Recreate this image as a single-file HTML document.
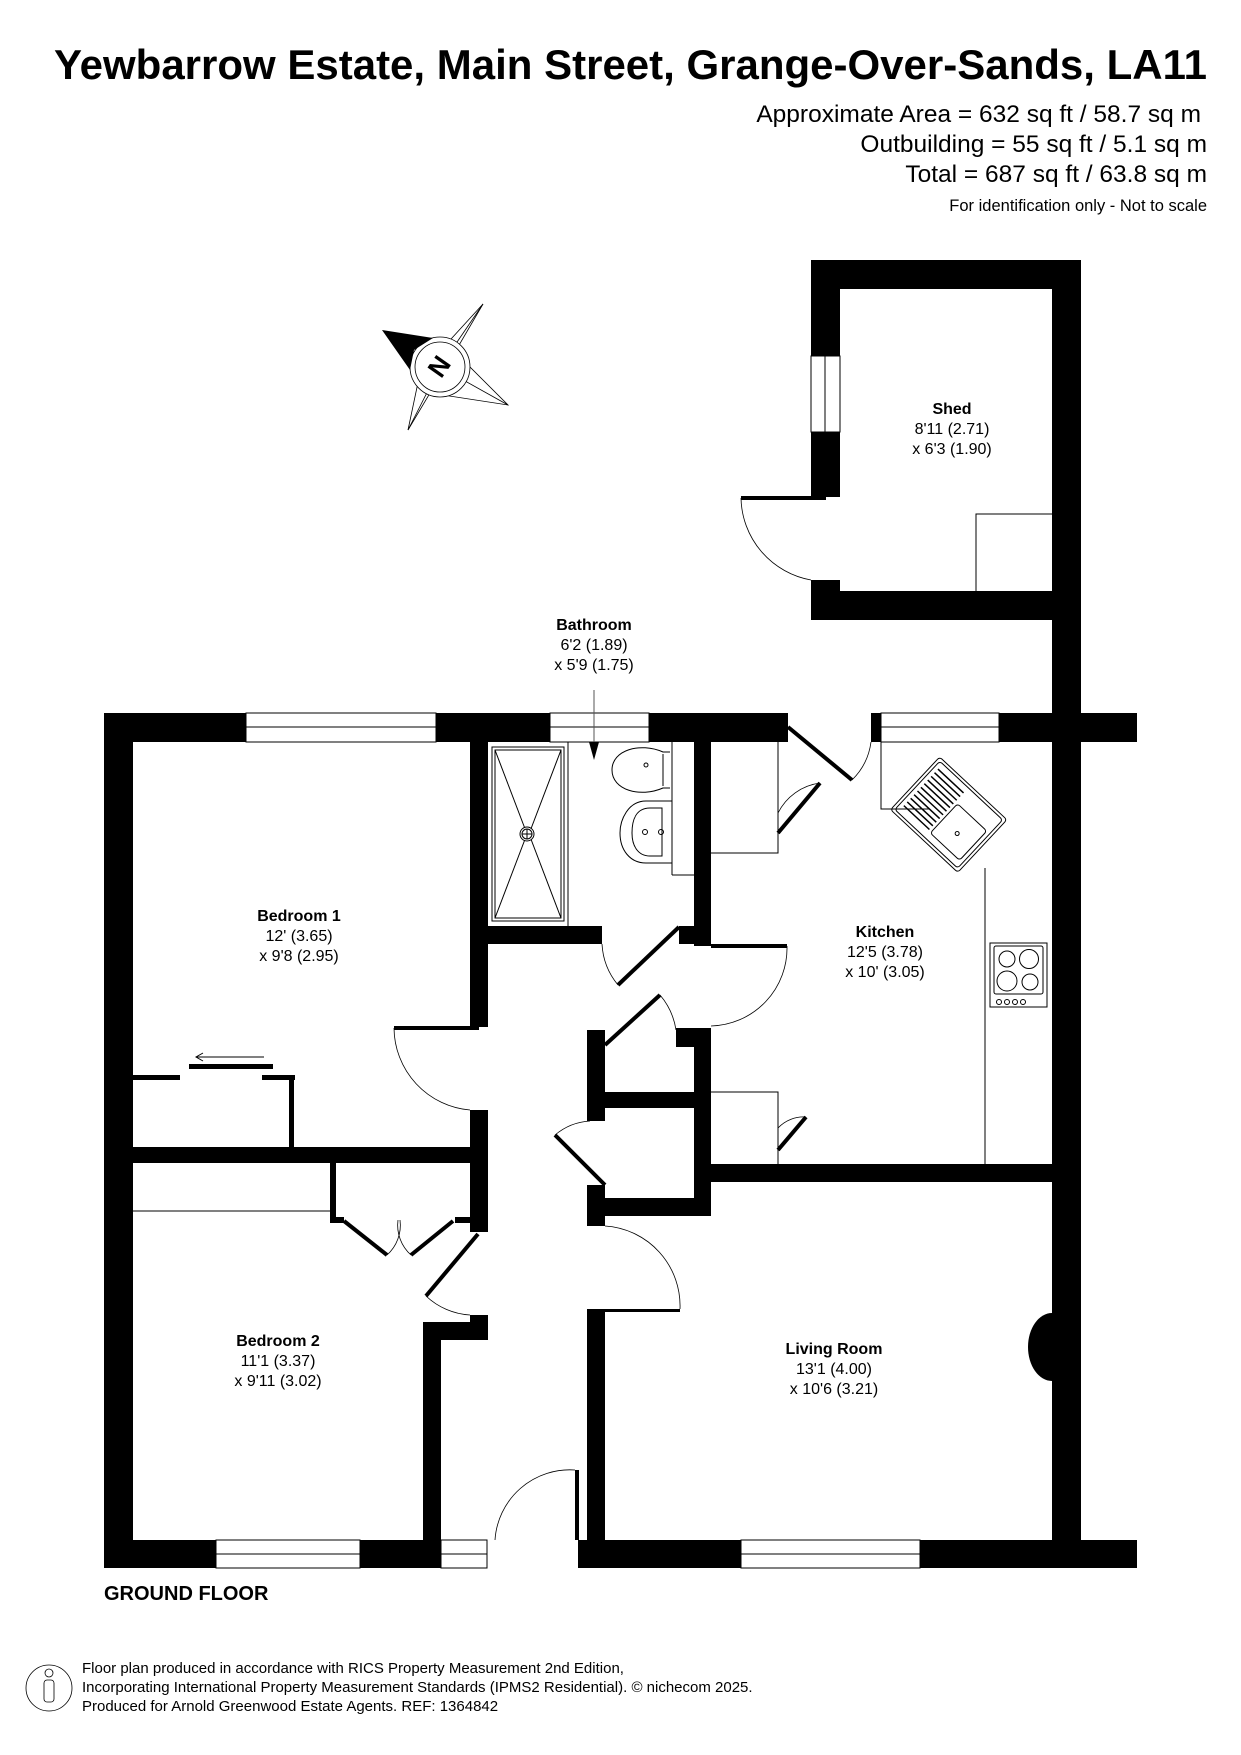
<!DOCTYPE html>
<html><head><meta charset="utf-8"><style>
html,body{margin:0;padding:0;background:#fff;}
svg{display:block;}
text{font-family:"Liberation Sans",Arial,sans-serif;fill:#000;}
</style></head><body>
<svg width="1241" height="1755" viewBox="0 0 1241 1755" xmlns="http://www.w3.org/2000/svg">
<rect width="1241" height="1755" fill="#fff"/>
<!-- header -->
<text x="1207" y="79" text-anchor="end" font-size="42" font-weight="bold">Yewbarrow Estate, Main Street, Grange-Over-Sands, LA11</text>
<text x="1201" y="122" text-anchor="end" font-size="24.5">Approximate Area = 632 sq ft / 58.7 sq m</text>
<text x="1207" y="152" text-anchor="end" font-size="24.5">Outbuilding = 55 sq ft / 5.1 sq m</text>
<text x="1207" y="182" text-anchor="end" font-size="24.5">Total = 687 sq ft / 63.8 sq m</text>
<text x="1207" y="211" text-anchor="end" font-size="16.5">For identification only - Not to scale</text>

<!-- compass -->
<g stroke="#000" stroke-width="0.8" fill="none">
<polygon points="483,304 455,352 508,405 430,393 408,430 420,373" fill="#fff"/>
<line x1="483" y1="304" x2="440" y2="367"/><line x1="508" y1="405" x2="440" y2="367"/><line x1="408" y1="430" x2="440" y2="367"/>
<circle cx="440" cy="367" r="30" fill="#fff"/><circle cx="440" cy="367" r="25"/>
</g>
<polygon points="382,330 433,338 414,350 410,370" fill="#000"/>
<text x="440" y="375" font-size="26" font-weight="bold" text-anchor="middle" transform="rotate(-55 440 367)">N</text>

<!-- walls -->
<g fill="#000">
<rect x="811" y="260" width="270" height="29"/>
<rect x="1052" y="260" width="29" height="1308"/>
<rect x="811" y="260" width="29" height="96"/>
<rect x="811" y="432" width="29" height="65"/>
<rect x="811" y="580" width="29" height="40"/>
<rect x="811" y="591" width="241" height="29"/>
<rect x="104" y="713" width="142" height="29"/>
<rect x="436" y="713" width="114" height="29"/>
<rect x="649" y="713" width="139" height="29"/>
<rect x="871" y="713" width="10" height="29"/>
<rect x="999" y="713" width="138" height="29"/>
<rect x="104" y="713" width="29" height="855"/>
<rect x="104" y="1540" width="112" height="28"/>
<rect x="360" y="1540" width="81" height="28"/>
<rect x="578" y="1540" width="163" height="28"/>
<rect x="920" y="1540" width="217" height="28"/>
<rect x="470" y="742" width="18" height="285"/>
<rect x="488" y="926" width="114" height="18"/>
<rect x="694" y="742" width="17" height="204"/>
<rect x="679" y="926" width="15" height="18"/>
<rect x="694" y="1028" width="17" height="188"/>
<rect x="676" y="1028" width="18" height="19"/>
<rect x="587" y="1030" width="18" height="91"/>
<rect x="605" y="1092" width="89" height="16"/>
<rect x="587" y="1185" width="18" height="41"/>
<rect x="605" y="1198" width="106" height="18"/>
<rect x="711" y="1164" width="341" height="18"/>
<rect x="470" y="1110" width="18" height="122"/>
<rect x="455" y="1217" width="15" height="6"/>
<rect x="133" y="1147" width="337" height="16"/>
<rect x="470" y="1315" width="18" height="25"/>
<rect x="423" y="1322" width="65" height="18"/>
<rect x="423" y="1322" width="18" height="218"/>
<rect x="587" y="1309" width="18" height="231"/>
<rect x="605" y="1309" width="75" height="3"/>
<rect x="575" y="1470" width="4" height="70"/>
<rect x="189" y="1064" width="84" height="5"/>
<rect x="133" y="1075" width="47" height="5"/>
<rect x="262" y="1075" width="33" height="5"/>
<rect x="289" y="1075" width="5" height="72"/>
<rect x="330" y="1163" width="6" height="60"/>
<rect x="330" y="1217" width="14" height="6"/>
<path d="M1052,1313 A24,34 0 0 0 1052,1381 Z"/>
</g>
<rect x="289" y="1100" width="5" height="47" fill="#000"/>

<!-- windows -->
<g fill="#fff" stroke="#000" stroke-width="1">
<rect x="246" y="713" width="190" height="29"/><line x1="246" y1="727" x2="436" y2="727"/>
<rect x="550" y="713" width="99" height="29"/><line x1="550" y1="727" x2="649" y2="727"/>
<rect x="881" y="713" width="118" height="29"/><line x1="881" y1="727" x2="999" y2="727"/>
<rect x="216" y="1540" width="144" height="28"/><line x1="216" y1="1554" x2="360" y2="1554"/>
<rect x="441" y="1540" width="46" height="28"/><line x1="441" y1="1554" x2="487" y2="1554"/>
<rect x="741" y="1540" width="179" height="28"/><line x1="741" y1="1554" x2="920" y2="1554"/>
<rect x="811" y="356" width="29" height="76"/><line x1="825" y1="356" x2="825" y2="432"/>
</g>

<!-- doors leaves -->
<g stroke="#000" stroke-width="4" fill="none">
<line x1="741" y1="498" x2="826" y2="498"/>
<line x1="394" y1="1028" x2="479" y2="1028"/>
<line x1="679" y1="927" x2="618" y2="985"/>
<line x1="711" y1="946" x2="787" y2="946"/>
<line x1="605" y1="1045" x2="660" y2="995"/>
<line x1="605" y1="1185" x2="555" y2="1135"/>
<line x1="478" y1="1234" x2="426" y2="1296"/>
<line x1="344" y1="1221" x2="387" y2="1255"/>
<line x1="411" y1="1255" x2="453" y2="1221"/>
<line x1="788" y1="727" x2="852" y2="780"/>
<line x1="778" y1="833" x2="820" y2="783"/>
<line x1="778" y1="1150" x2="806" y2="1117"/>
</g>
<!-- arcs -->
<g stroke="#000" stroke-width="0.8" fill="none">
<path d="M741,498 A85,85 0 0 0 811,580"/>
<path d="M394,1028 A83,83 0 0 0 470,1110"/>
<path d="M602,944 A70,70 0 0 0 618,985"/>
<path d="M787,946 A78,78 0 0 1 711,1026"/>
<path d="M660,995 A70,70 0 0 1 676,1030"/>
<path d="M555,1135 A60,60 0 0 1 590,1121"/>
<path d="M426,1296 A70,70 0 0 0 470,1315"/>
<path d="M387,1255 A40,40 0 0 0 400,1220"/>
<path d="M411,1255 A40,40 0 0 1 398,1220"/>
<path d="M605,1226 A80,80 0 0 1 680,1309"/>
<path d="M575,1470 A75,75 0 0 0 495,1540"/>
<path d="M852,780 A65,65 0 0 0 871,742"/>
<path d="M778,813 A55,55 0 0 1 820,783"/>
<path d="M778,1128 A35,35 0 0 1 806,1117"/>
</g>

<!-- fixtures -->
<g stroke="#000" stroke-width="1" fill="none">
<rect x="492" y="747" width="72" height="174"/><rect x="495" y="750" width="66" height="168"/>
<line x1="568" y1="742" x2="568" y2="926"/>
<line x1="495" y1="750" x2="527" y2="834"/><line x1="561" y1="750" x2="529" y2="834"/>
<line x1="495" y1="918" x2="527" y2="834"/><line x1="561" y1="918" x2="529" y2="834"/>
<circle cx="527" cy="834" r="7" fill="#fff"/><circle cx="527" cy="834" r="5"/>
<line x1="522" y1="834" x2="532" y2="834"/><line x1="527" y1="829" x2="527" y2="839"/>
<line x1="672" y1="742" x2="672" y2="875"/><line x1="672" y1="875" x2="694" y2="875"/>
<path d="M670,752 L663,752 C640,742 612,750 612,770 C612,790 640,798 663,788 L670,788"/>
<line x1="663" y1="754" x2="663" y2="786"/>
<circle cx="646" cy="765" r="2"/>
<path d="M672,801 L646,801 C628,801 620,820 620,833 C620,850 630,863 646,863 L672,863"/>
<path d="M662,808 L650,808 C636,808 632,820 632,833 C632,846 638,856 650,856 L662,856 Z"/>
<circle cx="645" cy="832" r="2.5"/><circle cx="661" cy="832" r="2.5"/>
<polyline points="711,853 778,853 778,742"/>
<polyline points="711,1092 778,1092 778,1164"/>
<polyline points="976,591 976,514 1052,514"/>
<polyline points="881,742 881,809 930,809"/>
<line x1="985" y1="868" x2="985" y2="1164"/>
<g transform="rotate(43 948 814)">
<rect x="903" y="778" width="92" height="72" rx="3"/>
<rect x="906" y="781" width="86" height="66" rx="3"/>
<rect x="948" y="800" width="40" height="40" rx="3"/>
<g stroke-width="1.5"><line x1="910" y1="788" x2="945" y2="788"/><line x1="910" y1="793" x2="945" y2="793"/><line x1="910" y1="798" x2="945" y2="798"/><line x1="910" y1="803" x2="945" y2="803"/><line x1="910" y1="808" x2="945" y2="808"/><line x1="910" y1="813" x2="945" y2="813"/><line x1="910" y1="818" x2="945" y2="818"/><line x1="910" y1="823" x2="945" y2="823"/><line x1="910" y1="828" x2="945" y2="828"/><line x1="910" y1="833" x2="945" y2="833"/><line x1="910" y1="838" x2="945" y2="838"/></g>
<circle cx="968" cy="822" r="2"/>
</g>
<rect x="990" y="943" width="57" height="64"/>
<rect x="994" y="946" width="49" height="48" rx="2"/>
<circle cx="1007" cy="959" r="8"/><circle cx="1029" cy="959" r="9.5"/>
<circle cx="1007" cy="981" r="10"/><circle cx="1030" cy="982" r="8"/>
<circle cx="999" cy="1002" r="2.5"/><circle cx="1007" cy="1002" r="2.5"/><circle cx="1015" cy="1002" r="2.5"/><circle cx="1023" cy="1002" r="2.5"/>
<line x1="133" y1="1211" x2="330" y2="1211"/>
<line x1="196" y1="1057" x2="264" y2="1057"/>
<polyline points="203,1053 196,1057 203,1061"/>
</g>
<line x1="594" y1="690" x2="594" y2="745" stroke="#555" stroke-width="1"/>
<polygon points="589,742 599,742 594,760" fill="#000"/>

<!-- labels -->
<g font-size="16" text-anchor="middle">
<text x="594" y="630" font-weight="bold">Bathroom</text><text x="594" y="650">6'2 (1.89)</text><text x="594" y="670">x 5'9 (1.75)</text>
<text x="952" y="414" font-weight="bold">Shed</text><text x="952" y="434">8'11 (2.71)</text><text x="952" y="454">x 6'3 (1.90)</text>
<text x="299" y="921" font-weight="bold">Bedroom 1</text><text x="299" y="941">12' (3.65)</text><text x="299" y="961">x 9'8 (2.95)</text>
<text x="885" y="937" font-weight="bold">Kitchen</text><text x="885" y="957">12'5 (3.78)</text><text x="885" y="977">x 10' (3.05)</text>
<text x="278" y="1346" font-weight="bold">Bedroom 2</text><text x="278" y="1366">11'1 (3.37)</text><text x="278" y="1386">x 9'11 (3.02)</text>
<text x="834" y="1354" font-weight="bold">Living Room</text><text x="834" y="1374">13'1 (4.00)</text><text x="834" y="1394">x 10'6 (3.21)</text>
</g>
<text x="104" y="1600" font-size="20" font-weight="bold">GROUND FLOOR</text>

<!-- footer -->
<g stroke="#000" stroke-width="0.8" fill="none">
<ellipse cx="49" cy="1688" rx="23" ry="23"/>
<circle cx="49" cy="1673" r="4"/>
<rect x="44" y="1680" width="10" height="22" rx="3"/>
</g>
<g font-size="15" fill="#222">
<text x="82" y="1673">Floor plan produced in accordance with RICS Property Measurement 2nd Edition,</text>
<text x="82" y="1692">Incorporating International Property Measurement Standards (IPMS2 Residential).   © nichecom 2025.</text>
<text x="82" y="1711">Produced for Arnold Greenwood Estate Agents.   REF: 1364842</text>
</g>
</svg>
</body></html>
